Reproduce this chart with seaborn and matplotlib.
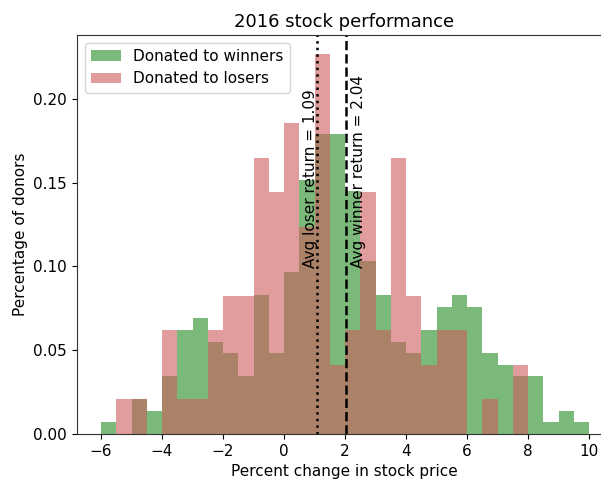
import numpy as np
import matplotlib
matplotlib.use("Agg")
import matplotlib.pyplot as plt
import seaborn as sns

# bins of half a percent, from -6 to 10
bin_edges = [-6.0, -5.5, -5.0, -4.5, -4.0, -3.5, -3.0, -2.5, -2.0, -1.5, -1.0, -0.5,
             0.0, 0.5, 1.0, 1.5, 2.0, 2.5, 3.0, 3.5, 4.0, 4.5, 5.0, 5.5,
             6.0, 6.5, 7.0, 7.5, 8.0, 8.5, 9.0, 9.5, 10.0]
bin_mids = [-5.75, -5.25, -4.75, -4.25, -3.75, -3.25, -2.75, -2.25, -1.75, -1.25, -0.75, -0.25,
            0.25, 0.75, 1.25, 1.75, 2.25, 2.75, 3.25, 3.75, 4.25, 4.75, 5.25, 5.75,
            6.25, 6.75, 7.25, 7.75, 8.25, 8.75, 9.25, 9.75]

# donor counts per bin
winner_counts = [1, 0, 3, 2, 5, 9, 10, 8, 7, 5, 12, 7,
                 14, 22, 26, 26, 21, 15, 12, 8, 7, 9, 11, 12,
                 11, 7, 6, 5, 5, 1, 2, 1]
loser_counts = [0, 1, 1, 0, 3, 1, 1, 3, 4, 4, 8, 7,
                9, 6, 11, 2, 3, 7, 3, 8, 4, 2, 3, 3,
                0, 1, 0, 2, 0, 0, 0, 0]

avg_winner = 2.04
avg_loser = 1.09

fig = plt.figure(figsize=(6.01, 4.83), dpi=100)
# the original is cut off on the right: axes run to the figure edge, no right spine
ax = fig.add_axes([0.128, 0.1014, 0.872, 0.826])

sns.histplot(x=bin_mids, weights=winner_counts, bins=bin_edges, stat="density",
             color="forestgreen", alpha=0.6, linewidth=0, label="Donated to winners", ax=ax)
sns.histplot(x=bin_mids, weights=loser_counts, bins=bin_edges, stat="density",
             color="indianred", alpha=0.6, linewidth=0, label="Donated to losers", ax=ax)

ax.axvline(avg_loser, color="black", linestyle=":", linewidth=1.8)
ax.axvline(avg_winner, color="black", linestyle="--", linewidth=1.8)
ax.text(avg_loser + 0.02, 0.099, f"Avg loser return = {avg_loser}", rotation=90,
        ha="right", va="bottom", fontsize=11)
ax.text(avg_winner + 0.15, 0.099, f"Avg winner return = {avg_winner}", rotation=90,
        ha="left", va="bottom", fontsize=11)

ax.set_xlim(-6.79, 10.39)
for s in ax.spines.values():
    s.set_color("#333333")
ax.spines["right"].set_visible(False)

ax.legend(loc="upper left", fontsize=11)
ax.set_title("2016 stock performance", fontsize=13, x=0.51)
ax.set_xlabel("Percent change in stock price", fontsize=11)
ax.xaxis.set_label_coords(0.51, -0.075)
ax.set_ylabel("Percentage of donors", fontsize=11)
ax.tick_params(labelsize=11)

plt.savefig("out.png", dpi=100)
